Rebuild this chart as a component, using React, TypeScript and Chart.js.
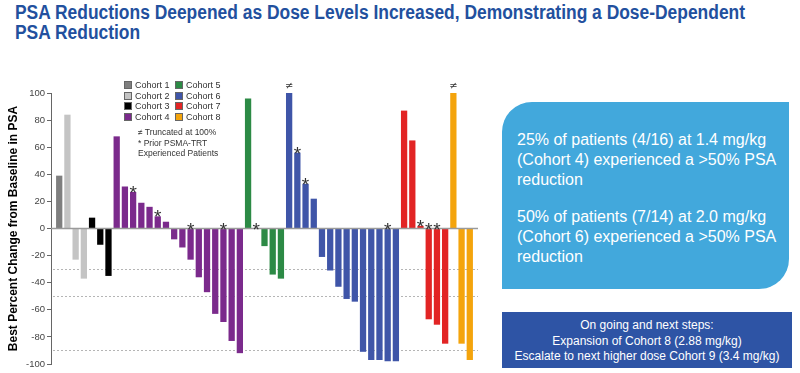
import React, { useEffect, useLayoutEffect, useRef } from "react";
import { Chart, registerables } from "chart.js";

Chart.register(...registerables);

// ---------- data ----------
const cohortNames = ["Cohort 1", "Cohort 2", "Cohort 3", "Cohort 4", "Cohort 5", "Cohort 6", "Cohort 7", "Cohort 8"];
const cohortColors = ["#7f7f7f", "#c4c4c4", "#000000", "#7b2a8c", "#2c8a45", "#3f55a8", "#e22424", "#f4a40c"];

const cohort1 = [39];
const cohort2 = [84, -23, -37];
const cohort3 = [8, -12, -35];
const cohort4 = [68, 31, 27, 19, 16, 9, 5, -8, -14, -23, -36, -47, -63, -69, -83, -92];
const cohort5 = [96, 0, -13, -34, -37];
const cohort6 = [100, 56, 33, 22, -21, -31, -43, -52, -54, -91, -97, -97, -98, -98];
const cohort7 = [87, 65, 2, -67, -71, -85];
const cohort8 = [100, -85, -97];

// markers: "*" prior PSMA-TRT, "≠" truncated at 100%
const marks1 = [""];
const marks2 = ["", "", ""];
const marks3 = ["", "", ""];
const marks4 = ["", "", "*", "", "", "*", "", "", "", "*", "", "", "", "*", "", ""];
const marks5 = ["", "*", "", "", ""];
const marks6 = ["≠", "*", "*", "", "", "", "", "", "", "", "", "", "*", ""];
const marks7 = ["", "", "*", "*", "*", ""];
const marks8 = ["≠", "", ""];

const cohortValues = [cohort1, cohort2, cohort3, cohort4, cohort5, cohort6, cohort7, cohort8];
const cohortMarks = [marks1, marks2, marks3, marks4, marks5, marks6, marks7, marks8];

const thresholdLines = [-30, -50, -90];
const yMin = -100;
const yMax = 100;
const yStep = 20;

const yTitle = "Best Percent Change from Baseline in PSA";
const titleLines = [
  "PSA Reductions Deepened as Dose Levels Increased, Demonstrating a Dose-Dependent",
  "PSA Reduction",
];
const noteLines = ["≠ Truncated at 100%", "* Prior PSMA-TRT", "Experienced Patients"];
const box1Paras = [
  "25% of patients (4/16) at 1.4 mg/kg (Cohort 4) experienced a >50% PSA reduction",
  "50% of patients (7/14) at 2.0 mg/kg (Cohort 6) experienced a >50% PSA reduction",
];
const box2Lines = [
  "On going and next steps:",
  "Expansion of Cohort 8 (2.88 mg/kg)",
  "Escalate to next higher dose Cohort 9 (3.4 mg/kg)",
];

// ---------- chart ----------
function WaterfallChart() {
  const ref = useRef<HTMLCanvasElement | null>(null);

  useEffect(() => {
    if (!ref.current) return;
    const points: { x: number; y: number }[] = [];
    const colors: string[] = [];
    const marks: string[] = [];
    let idx = 0;
    cohortValues.forEach((vals, c) => {
      vals.forEach((v, i) => {
        points.push({ x: idx, y: v });
        colors.push(cohortColors[c]);
        marks.push(cohortMarks[c][i] || "");
        idx++;
      });
    });
    const n = idx;

    const linesPlugin = {
      id: "refLines",
      beforeDatasetsDraw(chart: any) {
        const { ctx, chartArea, scales } = chart;
        const y = scales.y;
        ctx.save();
        ctx.strokeStyle = "#b5b5b5";
        ctx.lineWidth = 1;
        ctx.setLineDash([2, 2]);
        thresholdLines.forEach((t) => {
          const py = Math.round(y.getPixelForValue(t)) + 0.5;
          ctx.beginPath();
          ctx.moveTo(chartArea.left + 2, py);
          ctx.lineTo(chartArea.right, py);
          ctx.stroke();
        });
        ctx.restore();
      },
      afterDatasetsDraw(chart: any) {
        const { ctx, chartArea, scales } = chart;
        const y = scales.y;
        const y0 = y.getPixelForValue(0);
        ctx.save();
        ctx.strokeStyle = "#9a9a9a";
        ctx.lineWidth = 1.5;
        ctx.beginPath();
        ctx.moveTo(chartArea.left, y0);
        ctx.lineTo(chartArea.right, y0);
        ctx.stroke();

        const meta = chart.getDatasetMeta(0);
        ctx.fillStyle = "#333";
        ctx.textAlign = "center";
        meta.data.forEach((el: any, i: number) => {
          const m = marks[i];
          if (!m) return;
          const v = points[i].y;
          const top = v > 0 ? y.getPixelForValue(v) : y0;
          if (m === "*") {
            ctx.font = "19px 'Liberation Sans', Arial, sans-serif";
            ctx.textBaseline = "alphabetic";
            ctx.fillText("*", el.x, top + 7);
          } else {
            ctx.font = "10px 'DejaVu Sans', sans-serif";
            ctx.textBaseline = "middle";
            ctx.fillText(m, el.x, top - 7);
          }
        });
        ctx.restore();
      },
    };

    const chart = new Chart(ref.current, {
      type: "bar",
      data: {
        datasets: [
          {
            data: points,
            backgroundColor: colors,
            borderWidth: 0,
            barPercentage: 0.9,
            categoryPercentage: 0.85,
          },
        ],
      },
      options: {
        animation: false,
        responsive: true,
        maintainAspectRatio: false,
        layout: { padding: { top: 18, bottom: 9, left: 0, right: 12 } },
        plugins: { legend: { display: false }, tooltip: { enabled: false } },
        scales: {
          x: {
            type: "linear",
            display: false,
            offset: false,
            min: -1,
            max: n,
          },
          y: {
            min: yMin,
            max: yMax,
            afterFit(scale: any) {
              scale.width = 51;
            },
            ticks: {
              stepSize: yStep,
              padding: 2,
              color: "#444",
              font: { size: 9.5, family: "'Liberation Sans', Arial, sans-serif" },
            },
            grid: {
              drawOnChartArea: false,
              drawTicks: true,
              tickLength: 4,
              color: "#666",
            },
            border: { display: true, color: "#666", width: 1 },
            title: {
              display: true,
              text: yTitle,
              color: "#000",
              padding: { top: 6, bottom: 0 },
              font: { size: 12, weight: "bold", family: "'Liberation Sans', Arial, sans-serif" },
            },
          },
        },
      },
      plugins: [linesPlugin],
    } as any);
    return () => chart.destroy();
  }, []);

  return (
    <div style={{ position: "absolute", left: 0, top: 75, width: 490, height: 298 }}>
      <canvas ref={ref} />
    </div>
  );
}

function Title() {
  const ref = useRef<HTMLDivElement | null>(null);
  useLayoutEffect(() => {
    const el = ref.current;
    if (!el) return;
    const first = el.firstElementChild as HTMLElement | null;
    if (!first) return;
    const w = first.getBoundingClientRect().width;
    if (w > 0) el.style.transform = `scaleX(${730 / w})`;
  }, []);
  return (
    <div
      ref={ref}
      style={{
        position: "absolute",
        left: 15,
        top: 2,
        transformOrigin: "0 0",
        fontFamily: "'Liberation Sans', Arial, sans-serif",
        fontWeight: "bold",
        fontSize: 20,
        lineHeight: "20px",
        color: "#22509e",
        whiteSpace: "nowrap",
      }}
    >
      {titleLines.map((t, i) => (
        <div key={i} style={{ display: "table" }}>
          {t}
        </div>
      ))}
    </div>
  );
}

export default function App() {
  const sans = "'Liberation Sans', Arial, sans-serif";
  return (
    <div
      style={{
        position: "absolute",
        left: 0,
        top: 0,
        width: 800,
        height: 373,
        background: "#fff",
        overflow: "hidden",
        fontFamily: sans,
      }}
    >
      <Title />

      <WaterfallChart />

      {/* legend */}
      {cohortNames.map((name, i) => {
        const col = Math.floor(i / 4);
        const row = i % 4;
        return (
          <div
            key={name}
            style={{
              position: "absolute",
              left: 124 + col * 51,
              top: 80 + row * 10.6,
              height: 10,
              display: "flex",
              alignItems: "center",
              fontSize: 9,
              color: "#333",
              whiteSpace: "nowrap",
            }}
          >
            <span
              style={{
                display: "inline-block",
                width: 6,
                height: 6,
                background: cohortColors[i],
                border: "1px solid #666",
                marginRight: 3,
              }}
            />
            {name}
          </div>
        );
      })}
      {noteLines.map((t, i) => (
        <div
          key={i}
          style={{
            position: "absolute",
            left: 138,
            top: 127 + i * 10.5,
            fontSize: 8.5,
            lineHeight: "10px",
            color: "#333",
            whiteSpace: "nowrap",
          }}
        >
          {t}
        </div>
      ))}

      {/* light blue box */}
      <div
        style={{
          position: "absolute",
          left: 502,
          top: 102,
          width: 287,
          height: 187,
          background: "#42a8dc",
          borderRadius: "30px 0 30px 0",
          color: "#fff",
          fontSize: 16,
          lineHeight: "20px",
          boxSizing: "border-box",
          padding: "28px 10px 0 15px",
        }}
      >
        {box1Paras.map((p, i) => (
          <div key={i} style={{ marginBottom: 17 }}>
            {p}
          </div>
        ))}
      </div>

      {/* dark blue box */}
      <div
        style={{
          position: "absolute",
          left: 502,
          top: 312,
          width: 290,
          height: 56,
          background: "#2e54a5",
          color: "#fff",
          fontSize: 12,
          lineHeight: "15.7px",
          textAlign: "center",
          boxSizing: "border-box",
          paddingTop: 6,
        }}
      >
        {box2Lines.map((t, i) => (
          <div key={i}>{t}</div>
        ))}
      </div>
    </div>
  );
}
